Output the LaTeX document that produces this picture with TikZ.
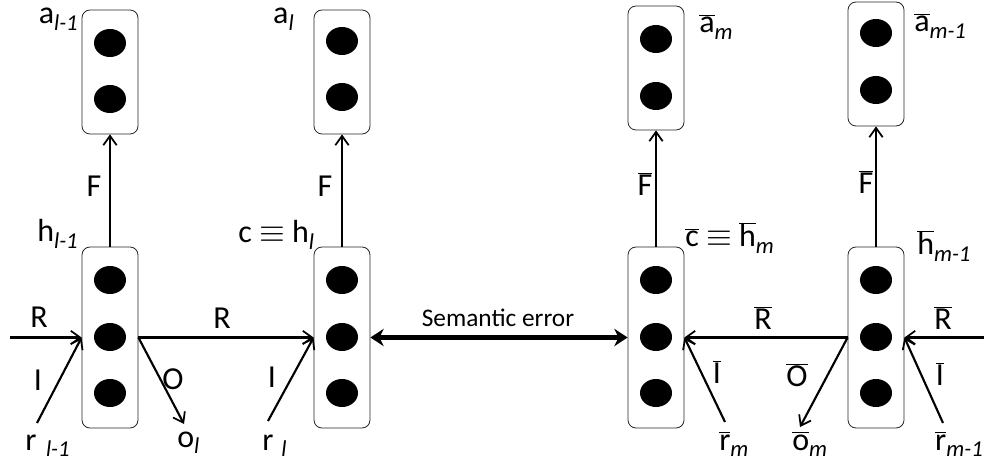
\documentclass[tikz,border=0pt]{standalone}
\usepackage{fontspec}
\setmainfont{Carlito}
\usetikzlibrary{arrows.meta,shapes.geometric}
\newcommand{\sbs}[1]{\raisebox{-0.45ex}{\fontsize{17}{19}\selectfont\itshape #1}}
\newcommand{\ob}[1]{$\overline{\mbox{#1}}$}
\begin{document}
\begin{tikzpicture}[x=0.75pt,y=-0.75pt,
  cell/.style={draw=black!85,line width=0.6pt,rounded corners=6pt,minimum width=42pt,inner sep=0pt},
  topcell/.style={cell,minimum height=93pt},
  botcell/.style={cell,minimum height=135.75pt},
  dot/.style={ellipse,fill=black,minimum width=24pt,minimum height=21pt,inner sep=0pt},
  lab/.style={font=\fontsize{24}{28}\selectfont,inner sep=0pt},
  arr/.style={line width=1.6pt,-{Straight Barb[length=7pt,width=10pt,line width=1.3pt]}},
  semarr/.style={line width=3.5pt,{Stealth[length=10pt,width=13pt]}-{Stealth[length=10pt,width=13pt]}}]
\useasboundingbox (0,0) rectangle (984,466);
% top cells
\node[topcell] (t1) at (110,72) {};
\node[topcell] (t2) at (342,72) {};
\node[topcell] (t3) at (656,68) {};
\node[topcell] (t4) at (876,64) {};
% bottom cells
\node[botcell] (b1) at (110,337.5) {};
\node[botcell] (b2) at (342,337.5) {};
\node[botcell] (b3) at (656,337.5) {};
\node[botcell] (b4) at (876,337.5) {};
% dots top
\node[dot] (t1a) at (110,43) {}; \node[dot] (t1b) at (110,99) {};
\node[dot] (t2a) at (342,41) {}; \node[dot] (t2b) at (342,97) {};
\node[dot] (t3a) at (656,39) {}; \node[dot] (t3b) at (656,96) {};
\node[dot] (t4a) at (876,33) {}; \node[dot] (t4b) at (876,90) {};
% dots bottom
\foreach \n/\x in {b1/110,b2/342,b3/656,b4/876}{
  \node[dot] (\n a) at (\x,280) {};
  \node[dot] (\n b) at (\x,337) {};
  \node[dot] (\n c) at (\x,393) {};
}
% coordinates for free ends
\coordinate (inL) at (10,337.5);
\coordinate (rl1) at (37,423);
\coordinate (ol) at (184,424);
\coordinate (rl) at (268,421);
\coordinate (rm) at (725,422);
\coordinate (om) at (800,427);
\coordinate (rm1) at (943,423);
\coordinate (inR) at (984,337.5);
% F arrows
\draw[arr] (b1.north) -- (t1.south);
\draw[arr] (b2.north) -- (t2.south);
\draw[arr] (b3.north) -- (t3.south);
\draw[arr] (b4.north) -- (t4.south);
% left network
\draw[arr] (inL) -- (b1.west);
\draw[arr] (rl1) -- (b1.west);
\draw[arr] (b1.east) -- (b2.west);
\draw[arr] (b1.east) -- (ol);
\draw[arr] (rl) -- (b2.west);
% semantic error
\draw[semarr] (b2.east) -- (b3.west);
% right network
\draw[arr] (b4.west) -- (b3.east);
\draw[arr] (b4.west) -- (om);
\draw[arr] (rm) -- (b3.east);
\draw[arr] (inR) -- (b4.east);
\draw[arr] (rm1) -- (b4.east);
% labels
\node[lab] (lR1) at (39,317) {R};
\node[lab] (lI1) at (38,380) {I};
\node[lab] (lR2) at (222,318) {R};
\node[lab] (lO1) at (173,379) {O};
\node[lab,anchor=base west] (lr1) at (25,450) {r\hspace{0.3em}\sbs{l-1}};
\node[lab,anchor=base west] (lo1) at (177,447) {o\sbs{l}};
\node[lab] (lI2) at (272,377) {I};
\node[lab,anchor=base west] (lr2) at (262,450) {r\hspace{0.25em}\sbs{l}};
\node[font=\fontsize{19}{22}\selectfont,inner sep=0pt] (sem) at (498,318) {Semantic error};
\node[lab] (lR3) at (763,318) {\ob{R}};
\node[lab] (lO2) at (797,375) {\ob{O}};
\node[lab,anchor=base west] (lo2) at (792,450) {\ob{o}\sbs{m}};
\node[lab] (lI3) at (717,372) {\ob{I}};
\node[lab,anchor=base west] (lr3) at (719,450) {\ob{r}\sbs{m}};
\node[lab] (lR4) at (943,318) {\ob{R}};
\node[lab] (lI4) at (940,374) {\ob{I}};
\node[lab,anchor=base east] (lr4) at (983,450) {\ob{r}\sbs{m-1}};
\node[lab,anchor=base east] (lh1) at (78,242) {h\sbs{l-1}};
\node[lab,anchor=base west] (lh2) at (238,243) {c $\equiv$ h\sbs{l}};
\node[lab,anchor=base west] (lh3) at (685,247) {\ob{c} $\equiv$ \ob{h}\sbs{m}};
\node[lab,anchor=base west] (lh4) at (917,255) {\ob{h}\sbs{m-1}};
\node[lab,anchor=base east] (la1) at (78,24) {a\sbs{l-1}};
\node[lab,anchor=base east] (la2) at (294,24) {a\sbs{l}};
\node[lab,anchor=base west] (la3) at (699,33) {\ob{a}\sbs{m}};
\node[lab,anchor=base west] (la4) at (914,32) {\ob{a}\sbs{m-1}};
\node[lab] (lF1) at (94,186) {F};
\node[lab] (lF2) at (325,186) {F};
\node[lab] (lF3) at (645,184) {\ob{F}};
\node[lab] (lF4) at (866,182) {\ob{F}};
\end{tikzpicture}
\end{document}
